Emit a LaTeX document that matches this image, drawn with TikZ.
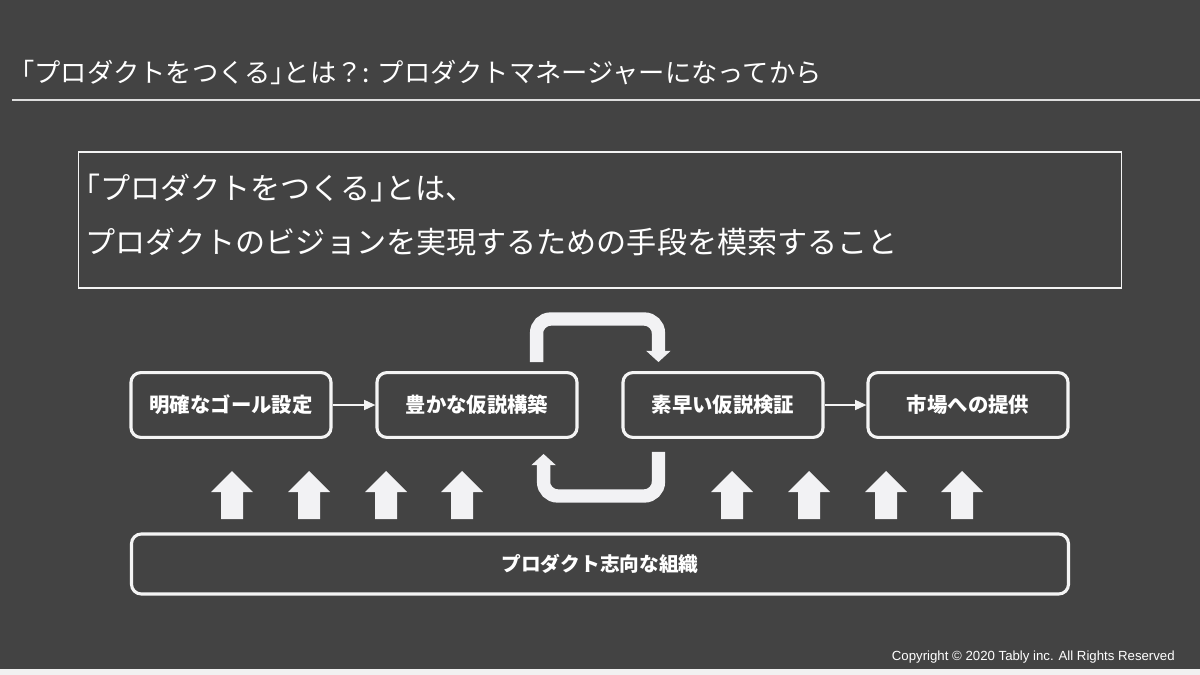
\documentclass[tikz,border=0pt]{standalone}
\usepackage{fontspec}
\setmainfont{Noto Sans CJK JP}
\newfontfamily\halffont[RawFeature=+halt]{Noto Sans CJK JP}
\newfontfamily\latinfont{Liberation Sans}
\newcommand\kakko[1]{{\halffont 「}#1{\halffont 」}}
\usetikzlibrary{
    arrows.meta,
    positioning,
    calc
}
\definecolor{bgcol}{HTML}{434343}
\definecolor{stripcol}{HTML}{F1F1F1}
\definecolor{linecol}{HTML}{F4F4F4}
\definecolor{rulecol}{HTML}{DDDDDD}
\definecolor{blockcol}{HTML}{F2F2F4}

\begin{document}
\begin{tikzpicture}[
    x=0.025cm, y=-0.025cm,
    % ── Node Styles ──
    stepbox/.style={
        draw=linecol, line width=2.2pt, rounded corners=7pt,
        minimum width=5.0cm, minimum height=1.62cm,
        text=white, font=\fontsize{14.5}{17}\selectfont\bfseries,
        inner sep=2pt
    },
    basebox/.style={
        draw=linecol, line width=2.2pt, rounded corners=7pt,
        minimum width=23.42cm, minimum height=1.5cm,
        text=white, font=\fontsize{14}{17}\selectfont\bfseries
    },
    defbox/.style={
        draw=linecol, line width=0.8pt,
        minimum width=26.05cm, minimum height=3.4cm
    },
    % ── Arrow Styles ──
    arr/.style={-{Triangle[width=7pt, length=8pt]}, line width=1.3pt, linecol},
    looparr/.style={-{Triangle[width=17pt, length=8pt]}, line width=9.5pt,
        blockcol, rounded corners=10pt},
    % ── Label Styles ──
    titlelbl/.style={text=white, font=\fontsize{18.7}{22}\selectfont, inner sep=0pt},
    deflbl/.style={text=white, font=\fontsize{21.4}{39}\selectfont,
        align=left, inner sep=0pt},
    copylbl/.style={text=white, font=\latinfont\fontsize{9.4}{11}\selectfont, inner sep=0pt},
]

% ────────────────────────────────
%  PAGE
% ────────────────────────────────
\fill[bgcol] (0,0) rectangle (1200,669);
\fill[stripcol] (0,669) rectangle (1200,675);
\useasboundingbox (0,0) rectangle (1200,675);

% ────────────────────────────────
%  TITLE
% ────────────────────────────────
\node[titlelbl, anchor=west] (title) at (21,73)
    {\kakko{プロダクトをつくる}とは？: プロダクトマネージャーになってから};
\coordinate (ruleL) at (12,100);
\coordinate (ruleR) at (1200,100);
\draw[rulecol, line width=1.1pt] (ruleL) -- (ruleR);

% ────────────────────────────────
%  DEFINITION
% ────────────────────────────────
\node[defbox] (defframe) at (600,220) {};
\node[deflbl, anchor=west] (deftxt) at (85,215) {%
    \kakko{プロダクトをつくる}とは、\\
    プロダクトのビジョンを実現するための手段を模索すること};

% ────────────────────────────────
%  PROCESS (y = 405)
% ────────────────────────────────
\node[stepbox] (goal)   at (231,405) {明確なゴール設定};
\node[stepbox] (hypo)   at (477,405) {豊かな仮説構築};
\node[stepbox] (verify) at (723,405) {素早い仮説検証};
\node[stepbox] (market) at (968,405) {市場への提供};

\draw[arr] (goal) -- (hypo);
\draw[arr] (verify) -- (market);

% ── Build / verify loop ──
\draw[looparr] ($(hypo.north east)+(-42,-9)$) -- ++(0,-43)
    -| ($(verify.north west)+(37,-9)$);
\draw[looparr] ($(verify.south west)+(37,13)$) -- ++(0,44)
    -| ($(hypo.south east)+(-35,15)$);

% ────────────────────────────────
%  ORGANISATION
% ────────────────────────────────
\node[basebox] (org) at (600,564) {プロダクト志向な組織};

% Supporting arrows
\foreach \ux in {232,309,386,462,732,809,886,962}
    \fill[blockcol] (\ux,471) -- (\ux+21,492) -- (\ux+11,492) -- (\ux+11,519)
        -- (\ux-11,519) -- (\ux-11,492) -- (\ux-21,492) -- cycle;

% Footer
\node[copylbl, anchor=east] (copy) at (1175,657)
    {Copyright © 2020 Tably inc. All Rights Reserved};

\end{tikzpicture}
\end{document}
